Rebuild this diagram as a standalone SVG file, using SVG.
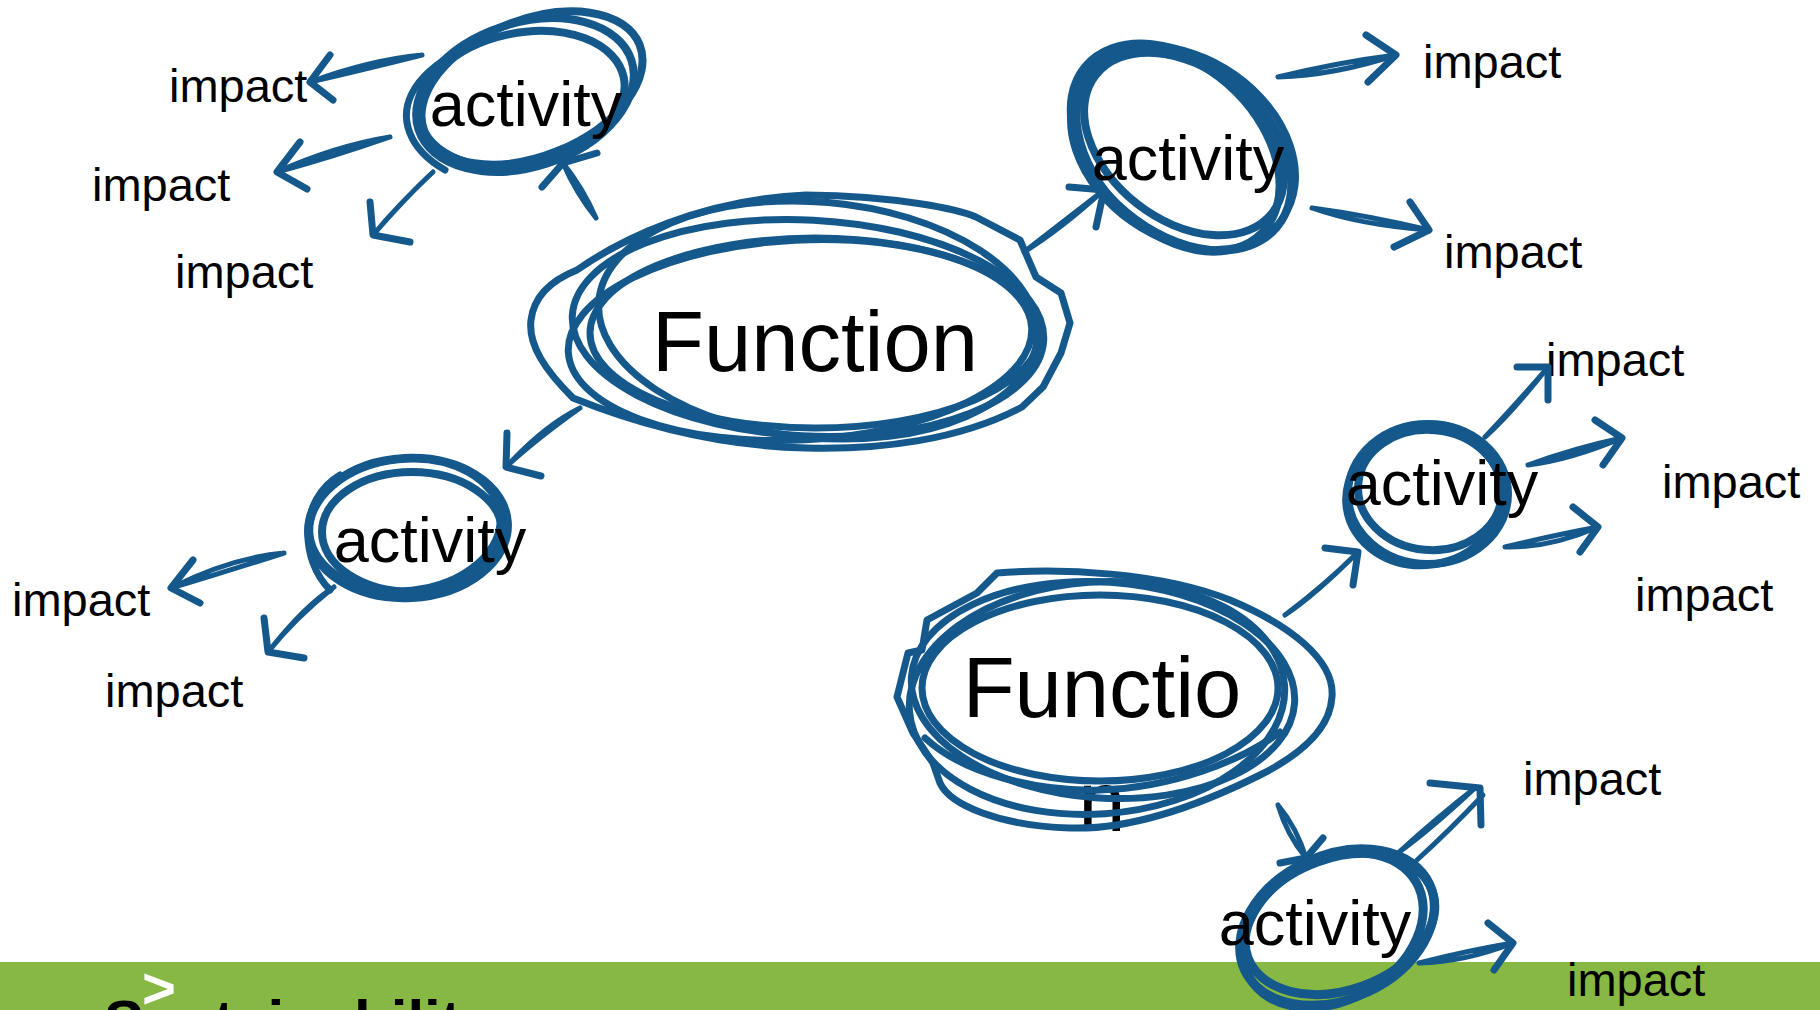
<svg xmlns="http://www.w3.org/2000/svg" width="1820" height="1010" viewBox="0 0 1820 1010">
<style>
.ring{fill:none;stroke:#15588c;stroke-width:7;stroke-linecap:round;stroke-linejoin:round}
.thick{stroke-width:8}
.heavy{stroke-width:9}
.shaft{fill:none;stroke:#15588c;stroke-width:5;stroke-linecap:round}
.head{fill:none;stroke:#15588c;stroke-width:7;stroke-linecap:round;stroke-linejoin:round}
.t{font-family:"Liberation Sans",Arial,sans-serif;fill:#000}
.big{font-size:85px;text-anchor:middle}
.act{font-size:63px;text-anchor:middle}
.imp{font-size:47px}
</style>
<rect id="band" x="0" y="962" width="1820" height="48" fill="#86b843"/>
<g id="footer">
<text class="t" x="104" y="1042" font-size="60" font-weight="bold">Sustainability</text>
<text x="142" y="1008" font-size="58" font-weight="bold" fill="#ffffff" font-family="Liberation Sans,Arial,sans-serif">&gt;</text>
</g>
<g id="function1">
<ellipse class="ring" cx="815" cy="333" rx="225" ry="95"/>
<ellipse class="ring" cx="808" cy="328" rx="236" ry="108" transform="rotate(3 808 328)"/>
<ellipse class="ring" cx="818" cy="320" rx="220" ry="118" transform="rotate(5 818 320)"/>
<ellipse class="ring" cx="800" cy="340" rx="232" ry="100" transform="rotate(-3 800 340)"/>
<path class="ring" d="M806 195 C900 196 960 210 976 217 L1020 240 L1036 277 L1061 293 L1070 323 L1061 353 L1043 387 L1022 407 C960 440 880 450 806 448 C720 446 640 425 573 398 C545 370 528 345 531 320 C534 295 552 280 577 270 C620 240 700 200 806 195 Z"/>
<text class="t big" x="815" y="371">Function</text>
</g>
<g id="function2">
<text class="t big" x="1102" y="717" font-size="84">Functio</text>
<text class="t big" x="1102" y="831" font-size="84">n</text>
<ellipse class="ring" cx="1100" cy="688" rx="178" ry="93"/>
<ellipse class="ring" cx="1103" cy="690" rx="192" ry="108" transform="rotate(4 1103 690)"/>
<ellipse class="ring" cx="1097" cy="698" rx="188" ry="116" transform="rotate(-4 1097 698)"/>
<path class="ring" d="M997 573 C1060 568 1160 572 1230 600 C1290 625 1335 660 1332 697 C1330 730 1300 755 1260 775 C1200 805 1130 830 1070 828 C1000 826 950 805 940 783 L933 763 L913 733 L897 697 L908 653 L922 650 L927 620 L977 593 Z"/>
<path class="ring" d="M925 738 C965 775 1040 792 1100 790 C1170 788 1240 762 1280 732"/>
</g>
<g id="activity1">
<ellipse class="ring thick" cx="525" cy="95" rx="112" ry="72" transform="rotate(-18 525 95)"/>
<ellipse class="ring thick" cx="532" cy="88" rx="116" ry="68" transform="rotate(-22 532 88)"/>
<ellipse class="ring thick" cx="522" cy="99" rx="104" ry="66" transform="rotate(-12 522 99)"/>
<path class="ring" d="M445 170 C410 150 396 118 415 88 C428 68 450 55 470 45"/>
<text class="t act" x="526" y="126">activity</text>
</g>
<g id="activity2">
<ellipse class="ring thick" cx="1181" cy="147" rx="125" ry="85" transform="rotate(40 1181 147)"/>
<ellipse class="ring thick" cx="1178" cy="150" rx="118" ry="82" transform="rotate(45 1178 150)"/>
<ellipse class="ring thick" cx="1184" cy="144" rx="112" ry="76" transform="rotate(38 1184 144)"/>
<ellipse class="ring" cx="1183" cy="148" rx="122" ry="90" transform="rotate(35 1183 148)"/>
<text class="t act" x="1188" y="180">activity</text>
</g>
<g id="activity3">
<ellipse class="ring thick" cx="408" cy="528" rx="100" ry="70" transform="rotate(-3 408 528)"/>
<ellipse class="ring thick" cx="412" cy="532" rx="90" ry="60"/>
<ellipse class="ring thick" cx="405" cy="525" rx="96" ry="66" transform="rotate(-6 405 525)"/>
<path class="ring" d="M330 590 C300 560 298 500 340 475"/>
<text class="t act" x="430" y="562">activity</text>
</g>
<g id="activity4">
<ellipse class="ring thick" cx="1428" cy="494" rx="80" ry="70"/>
<ellipse class="ring thick" cx="1430" cy="490" rx="72" ry="60" transform="rotate(5 1430 490)"/>
<ellipse class="ring thick" cx="1424" cy="497" rx="78" ry="68" transform="rotate(-8 1424 497)"/>
<text class="t act" x="1442" y="505">activity</text>
</g>
<g id="activity5">
<ellipse class="ring heavy" cx="1337" cy="927" rx="102" ry="72" transform="rotate(-25 1337 927)"/>
<ellipse class="ring heavy" cx="1333" cy="930" rx="96" ry="70" transform="rotate(-30 1333 930)"/>
<ellipse class="ring heavy" cx="1340" cy="924" rx="98" ry="66" transform="rotate(-20 1340 924)"/>
<text class="t act" x="1315" y="945">activity</text>
</g>
<g id="impacts">
<text class="t imp" x="169" y="102">impact</text>
<text class="t imp" x="92" y="201">impact</text>
<text class="t imp" x="175" y="288">impact</text>
<text class="t imp" x="1423" y="78">impact</text>
<text class="t imp" x="1444" y="268">impact</text>
<text class="t imp" x="12" y="616">impact</text>
<text class="t imp" x="105" y="707">impact</text>
<text class="t imp" x="1546" y="376">impact</text>
<text class="t imp" x="1662" y="498">impact</text>
<text class="t imp" x="1635" y="611">impact</text>
<text class="t imp" x="1523" y="795">impact</text>
<text class="t imp" x="1567" y="996">impact</text>
</g>
<g id="connectors">
<path class="shaft" d="M596 218 Q583 188 563 163 M596 218 Q576 193 563 163"/>
<path class="head" d="M542 187 L563 163 L597 153"/>
<path class="shaft" d="M422 55 Q370 60 310 82 M422 55 Q362 70 310 82"/>
<path class="head" d="M330 55 L310 82 L333 100"/>
<path class="shaft" d="M390 137 Q335 146 277 172 M390 137 Q330 158 277 172"/>
<path class="head" d="M300 142 L277 172 L307 189"/>
<path class="shaft" d="M433 172 Q408 195 373 235 M433 172 Q398 205 373 235"/>
<path class="head" d="M370 202 L373 235 L410 242"/>
<path class="shaft" d="M1024 252 Q1060 230 1104 190 M1024 252 Q1068 218 1104 190"/>
<path class="head" d="M1069 187 L1104 190 L1096 227"/>
<path class="shaft" d="M1278 77 Q1335 75 1396 55 M1278 77 Q1340 62 1396 55"/>
<path class="head" d="M1366 35 L1396 55 L1368 82"/>
<path class="shaft" d="M1312 208 Q1360 225 1429 230 M1312 208 Q1365 215 1429 230"/>
<path class="head" d="M1410 202 L1429 230 L1394 247"/>
<path class="shaft" d="M580 408 Q545 425 506 467 M580 408 Q535 440 506 467"/>
<path class="head" d="M507 433 L506 467 L541 476"/>
<path class="shaft" d="M284 553 Q230 558 171 588 M284 553 Q225 572 171 588"/>
<path class="head" d="M193 560 L171 588 L200 603"/>
<path class="shaft" d="M334 587 Q305 605 268 652 M334 587 Q295 618 268 652"/>
<path class="head" d="M264 618 L268 652 L304 658"/>
<path class="shaft" d="M1285 615 Q1315 595 1358 552 M1285 615 Q1325 585 1358 552"/>
<path class="head" d="M1325 548 L1358 552 L1353 585"/>
<path class="shaft" d="M1485 437 Q1510 415 1548 367 M1485 437 Q1520 400 1548 367"/>
<path class="head" d="M1517 367 L1548 367 L1548 400"/>
<path class="shaft" d="M1528 465 Q1570 460 1622 438 M1528 465 Q1575 448 1622 438"/>
<path class="head" d="M1595 420 L1622 438 L1603 465"/>
<path class="shaft" d="M1505 547 Q1550 548 1598 527 M1505 547 Q1555 535 1598 527"/>
<path class="head" d="M1573 507 L1598 527 L1580 552"/>
<path class="shaft" d="M1278 805 Q1287 835 1306 858 M1278 805 Q1297 828 1306 858"/>
<path class="head" d="M1323 838 L1306 858 L1280 863"/>
<path class="shaft" d="M1398 853 Q1440 815 1475 788 M1417 860 Q1450 830 1483 795 M1398 853 Q1430 830 1475 788"/>
<path class="head" d="M1430 783 L1480 788 L1481 825"/>
<path class="shaft" d="M1419 963 Q1465 962 1513 943 M1419 963 Q1470 950 1513 943"/>
<path class="head" d="M1488 923 L1513 943 L1494 970"/>
</g>
</svg>
